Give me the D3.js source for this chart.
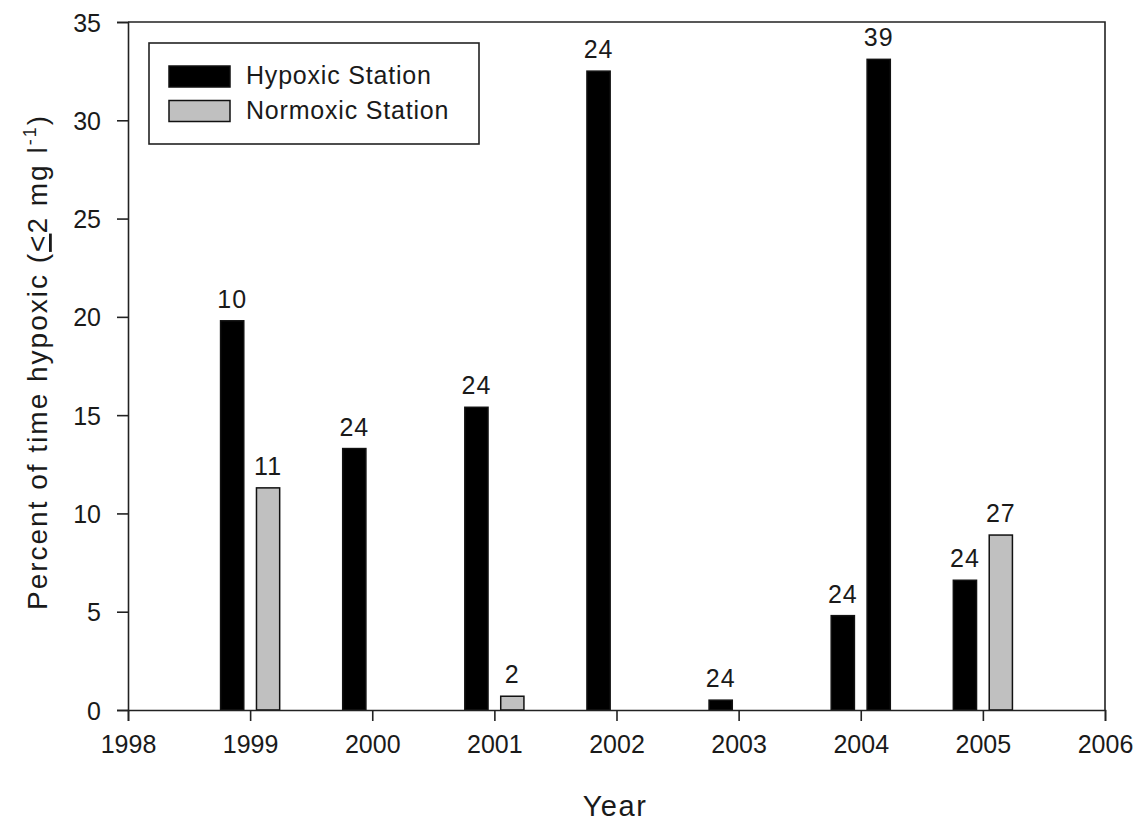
<!DOCTYPE html>
<html>
<head>
<meta charset="utf-8">
<script src="https://cdn.jsdelivr.net/npm/d3@7"></script>
<style>
  body { margin: 0; background: #fff; }
  text { font-family: Arial, "Liberation Sans", sans-serif; fill: #1a1a1a; }
</style>
</head>
<body>
<div id="chart"></div>
<script>
// data
var years = [1999, 2000, 2001, 2002, 2003, 2004, 2005];
var hypoxic = [19.8, 13.3, 15.4, 32.5, 0.5, 4.8, 6.6];
var hypoxicN = [10, 24, 24, 24, 24, 24, 24];
var normoxic = [11.3, null, 0.7, null, null, 33.1, 8.9];
var normoxicN = [11, null, 2, null, null, 39, 27];
// in the original, the 2004 normoxic bar is printed black
var blackNormoxicYears = [2004];
var yTicks = [0, 5, 10, 15, 20, 25, 30, 35];
var xTicks = [1998, 1999, 2000, 2001, 2002, 2003, 2004, 2005, 2006];

var width = 1139,
    height = 823,
    margin = {top: 22, right: 34, bottom: 113, left: 128};

var svg = d3.select('#chart')
    .append('svg')
    .attr('width', width)
    .attr('height', height);

var x = d3.scaleLinear()
    .domain([1998, 2006])
    .range([margin.left, width - margin.right]);

var y = d3.scaleLinear()
    .domain([0, 35])
    .range([height - margin.bottom, margin.top]);

var barW = 0.19,
    offset = 0.147;

var bars = [];
years.forEach(function(yr, i) {
    if (hypoxic[i] != null) bars.push({year: yr, v: hypoxic[i], n: hypoxicN[i], side: -1, fill: '#000'});
    if (normoxic[i] != null) bars.push({year: yr, v: normoxic[i], n: normoxicN[i], side: 1,
        fill: blackNormoxicYears.indexOf(yr) >= 0 ? '#000' : '#c0c0c0'});
});

svg.selectAll('rect.bar')
    .data(bars)
    .enter().append('rect')
    .attr('class', 'bar')
    .attr('x', function(d) { return x(d.year + d.side * offset - barW / 2); })
    .attr('width', function() { return x(1998 + barW) - x(1998); })
    .attr('y', function(d) { return y(d.v); })
    .attr('height', function(d) { return y(0) - y(d.v); })
    .attr('fill', function(d) { return d.fill; })
    .attr('stroke', '#111')
    .attr('stroke-width', 1.5);

svg.selectAll('text.n')
    .data(bars)
    .enter().append('text')
    .attr('class', 'n')
    .attr('x', function(d) { return x(d.year + d.side * offset); })
    .attr('y', function(d) { return y(d.v) - 13; })
    .attr('text-anchor', 'middle')
    .style('font-size', '25px')
    .style('letter-spacing', '1px')
    .text(function(d) { return d.n; });

// axes
var xAxis = svg.append('g')
    .attr('transform', 'translate(0,' + y(0) + ')')
    .call(d3.axisBottom(x).tickValues(xTicks).tickFormat(d3.format('d')).tickSize(11).tickPadding(14));

var yAxis = svg.append('g')
    .attr('transform', 'translate(' + x(1998) + ',0)')
    .call(d3.axisLeft(y).tickValues(yTicks).tickSize(11).tickPadding(16));

[xAxis, yAxis].forEach(function(g) {
    g.select('.domain').attr('stroke', '#222').attr('stroke-width', 1.6);
    g.selectAll('.tick line').attr('stroke', '#222').attr('stroke-width', 1.6);
    g.selectAll('.tick text')
        .style('font-size', '25px')
        .style('font-family', 'Arial, "Liberation Sans", sans-serif')
        .attr('fill', '#1a1a1a');
});
yAxis.selectAll('.tick text').attr('dy', '0.36em');

// frame top and right
svg.append('path')
    .attr('d', 'M' + x(1998) + ',' + y(35) + 'H' + x(2006) + 'V' + y(0))
    .attr('fill', 'none')
    .attr('stroke', '#222')
    .attr('stroke-width', 1.6);

// axis titles
svg.append('text')
    .attr('x', 615)
    .attr('y', 816)
    .attr('text-anchor', 'middle')
    .style('font-size', '29px')
    .style('letter-spacing', '1.5px')
    .text('Year');

var yt = svg.append('text')
    .attr('transform', 'translate(47,362) rotate(-90)')
    .attr('text-anchor', 'middle')
    .style('font-size', '28px')
    .style('letter-spacing', '2px');
yt.append('tspan').text('Percent of time hypoxic (');
yt.append('tspan').attr('text-decoration', 'underline').text('<');
yt.append('tspan').text('2 mg l');
yt.append('tspan').attr('dy', -11).style('font-size', '18px').text('-1');
yt.append('tspan').attr('dy', 11).text(')');

// legend
var leg = svg.append('g');
leg.append('rect')
    .attr('x', 149).attr('y', 43)
    .attr('width', 330).attr('height', 101)
    .attr('fill', '#fff')
    .attr('stroke', '#222')
    .attr('stroke-width', 1.6);

var legItems = [
    {label: 'Hypoxic Station', fill: '#000'},
    {label: 'Normoxic Station', fill: '#c0c0c0'}
];
leg.selectAll('rect.sw')
    .data(legItems)
    .enter().append('rect')
    .attr('class', 'sw')
    .attr('x', 169)
    .attr('y', function(d, i) { return 66 + i * 34.5; })
    .attr('width', 61)
    .attr('height', 21)
    .attr('fill', function(d) { return d.fill; })
    .attr('stroke', '#111')
    .attr('stroke-width', 1.5);
leg.selectAll('text.lt')
    .data(legItems)
    .enter().append('text')
    .attr('class', 'lt')
    .attr('x', 246)
    .attr('y', function(d, i) { return 84 + i * 34.5; })
    .style('font-size', '25px')
    .style('letter-spacing', '0.8px')
    .text(function(d) { return d.label; });
</script>
</body>
</html>
